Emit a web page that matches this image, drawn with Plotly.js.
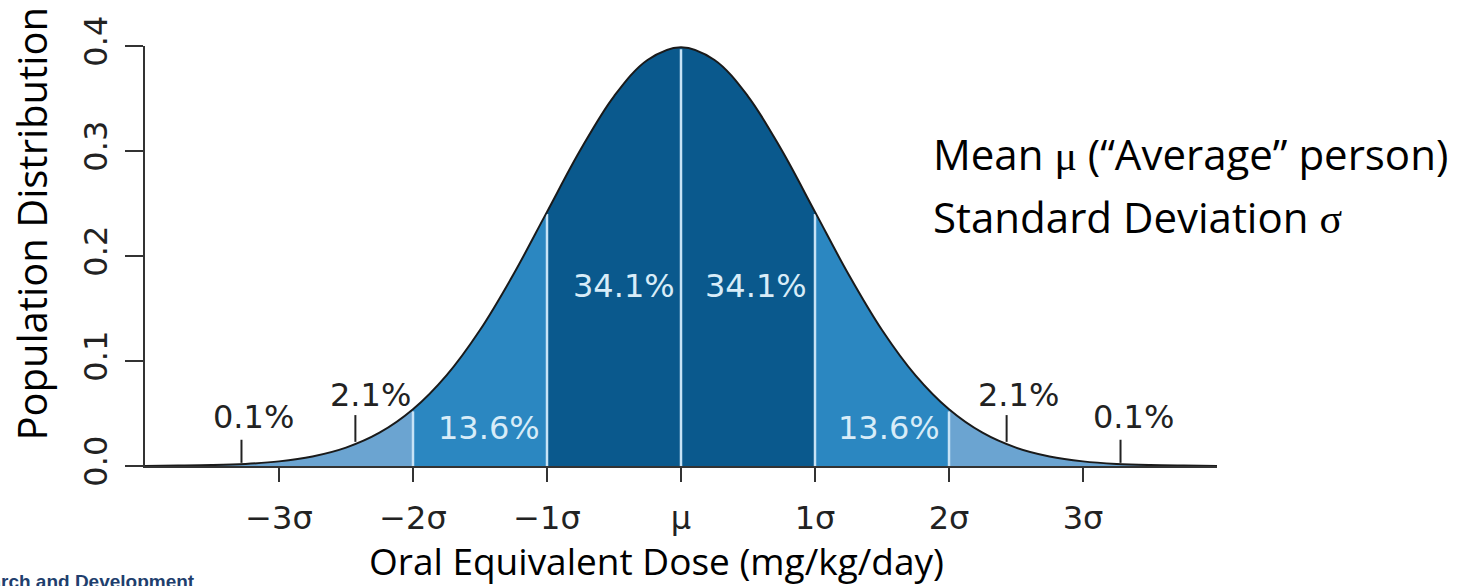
<!DOCTYPE html>
<html>
<head>
<meta charset="utf-8">
<script src="https://cdn.plot.ly/plotly-3.0.1.min.js"></script>
<style>html,body{margin:0;padding:0;background:#fff;}#chart{width:1476px;height:586px;}</style>
</head>
<body>
<div id="chart"></div>
<script>
// Standard-deviation positions (in σ units) and population density
const sigmaX = [-4, -3.75, -3.5, -3.25, -3, -2.75, -2.5, -2.25, -2, -1.75, -1.5, -1.25, -1, -0.75, -0.5, -0.25, 0,
                0.25, 0.5, 0.75, 1, 1.25, 1.5, 1.75, 2, 2.25, 2.5, 2.75, 3, 3.25, 3.5, 3.75, 4];
const density = [0.0001, 0.0004, 0.0009, 0.0020, 0.0044, 0.0091, 0.0175, 0.0317, 0.0540, 0.0863, 0.1295, 0.1826, 0.2420, 0.3011, 0.3521, 0.3867, 0.3989,
                 0.3867, 0.3521, 0.3011, 0.2420, 0.1826, 0.1295, 0.0863, 0.0540, 0.0317, 0.0175, 0.0091, 0.0044, 0.0020, 0.0009, 0.0004, 0.0001];

// Shaded bands (σ boundaries)
const bandStart = [-4, -2, -1, 1, 2];
const bandEnd   = [-2, -1, 1, 2, 4];
const bandShade = ['light', 'mid', 'dark', 'mid', 'light'];

// Boundary lines drawn inside the curve
const dividers = [-2, -1, 0, 1, 2];

// Share labels
const shareLabels = ['0.1%', '2.1%', '13.6%', '34.1%', '34.1%', '13.6%', '2.1%', '0.1%'];
const shareX      = [-3.19, -2.32, -1.43, -0.425, 0.556, 1.55, 2.52, 3.38];
const shareY      = [0.047, 0.0675, 0.036, 0.171, 0.171, 0.036, 0.0675, 0.047];
const shareInside = [false, false, true, true, true, true, false, false];
// little pointer marks under the outside labels
const pointerX    = [-3.28, -2.43, 2.43, 3.28];
const pointerTop  = [0.025, 0.0485, 0.0485, 0.025];
const pointerBot  = [0.003, 0.023, 0.023, 0.003];

// Axis ticks
const xTickVals  = [-3, -2, -1, 0, 1, 2, 3];
const xTickText  = ['\u22123\u03c3', '\u22122\u03c3', '\u22121\u03c3', '\u03bc', '1\u03c3', '2\u03c3', '3\u03c3'];
const yTickVals  = [0, 0.1, 0.2, 0.3, 0.4];
const yTickText  = ['0.0', '0.1', '0.2', '0.3', '0.4'];

const shadeColor = {light: '#6ba4d1', mid: '#2b87c1', dark: '#0a598d'};
const dividerColor = '#c7e3f6';
const insideText = '#d8ecf8';

function densityAt(x) {
  const i = sigmaX.indexOf(x);
  return density[i];
}

const traces = [];
bandStart.forEach((s, k) => {
  const xs = [], ys = [];
  sigmaX.forEach((x, i) => { if (x >= s && x <= bandEnd[k]) { xs.push(x); ys.push(density[i]); } });
  traces.push({
    type: 'scatter', mode: 'lines', x: xs, y: ys,
    line: {width: 0, shape: 'spline', color: shadeColor[bandShade[k]]},
    fill: 'tozeroy', fillcolor: shadeColor[bandShade[k]],
    hoverinfo: 'skip', showlegend: false
  });
});
dividers.forEach(d => {
  traces.push({
    type: 'scatter', mode: 'lines', x: [d, d], y: [0, densityAt(d) - 0.002],
    line: {width: 2.5, color: dividerColor}, hoverinfo: 'skip', showlegend: false
  });
});
traces.push({
  type: 'scatter', mode: 'lines', x: sigmaX, y: density,
  line: {width: 2, color: '#1a1a1a', shape: 'spline'},
  hoverinfo: 'skip', showlegend: false, cliponaxis: false
});

const annotations = shareLabels.map((t, i) => ({
  xref: 'x', yref: 'y', x: shareX[i], y: shareY[i], text: t, showarrow: false,
  xanchor: 'center', yanchor: 'middle',
  font: {family: 'DejaVu Sans', size: 32, color: shareInside[i] ? insideText : '#222'}
}));

const shapes = pointerX.map((x, i) => ({
  type: 'line', xref: 'x', yref: 'y', x0: x, x1: x, y0: pointerBot[i], y1: pointerTop[i],
  line: {color: '#222', width: 2}
}));

const symFont = 'font-family:Liberation Serif';
annotations.push(
  {xref: 'paper', yref: 'paper', x: -0.106, y: 0.578, text: 'Population Distribution', textangle: -90,
   showarrow: false, xanchor: 'center', yanchor: 'middle', font: {family: 'Open Sans', size: 40, color: '#000'}},
  {xref: 'paper', yref: 'paper', x: 0.4776, y: -0.224, text: 'Oral Equivalent Dose (mg/kg/day)',
   showarrow: false, xanchor: 'center', yanchor: 'middle', font: {family: 'Open Sans', size: 37, color: '#000'}},
  {xref: 'paper', yref: 'paper', x: 0.733, y: 0.743,
   text: 'Mean <span style="' + symFont + '">\u03bc</span> (\u201cAverage\u201d person)',
   showarrow: false, xanchor: 'left', yanchor: 'middle', font: {family: 'Open Sans', size: 42, color: '#000'}},
  {xref: 'paper', yref: 'paper', x: 0.733, y: 0.593,
   text: 'Standard Deviation <span style="' + symFont + '">\u03c3</span>',
   showarrow: false, xanchor: 'left', yanchor: 'middle', font: {family: 'Open Sans', size: 42, color: '#000'}},
  {xref: 'paper', yref: 'paper', x: 0.0485, y: -0.245, text: '<b>Research and Development</b>',
   showarrow: false, xanchor: 'right', yanchor: 'top', font: {family: 'Liberation Sans', size: 19, color: '#1f3f6e'}}
);

const layout = {
  width: 1476, height: 586,
  margin: {l: 145, r: 259, t: 46, b: 120, pad: 0},
  paper_bgcolor: '#ffffff', plot_bgcolor: '#ffffff',
  showlegend: false,
  xaxis: {
    range: [-4, 4], showgrid: false, zeroline: false,
    showline: true, linecolor: '#333', linewidth: 2,
    ticks: 'outside', ticklen: 14, tickwidth: 2, tickcolor: '#333',
    tickvals: xTickVals, ticktext: xTickText, ticklabelstandoff: 9,
    tickfont: {family: 'DejaVu Sans', size: 32, color: '#222'}
  },
  yaxis: {
    range: [0, 0.4], showgrid: false, zeroline: false,
    showline: true, linecolor: '#333', linewidth: 2,
    ticks: 'outside', ticklen: 18, tickwidth: 2, tickcolor: '#333',
    tickvals: yTickVals, ticktext: yTickText, tickangle: -90, ticklabelstandoff: 5,
    tickfont: {family: 'DejaVu Sans', size: 32, color: '#222'}
  },
  annotations: annotations,
  shapes: shapes
};

Plotly.newPlot('chart', traces, layout, {displayModeBar: false, staticPlot: true});
</script>
</body>
</html>
